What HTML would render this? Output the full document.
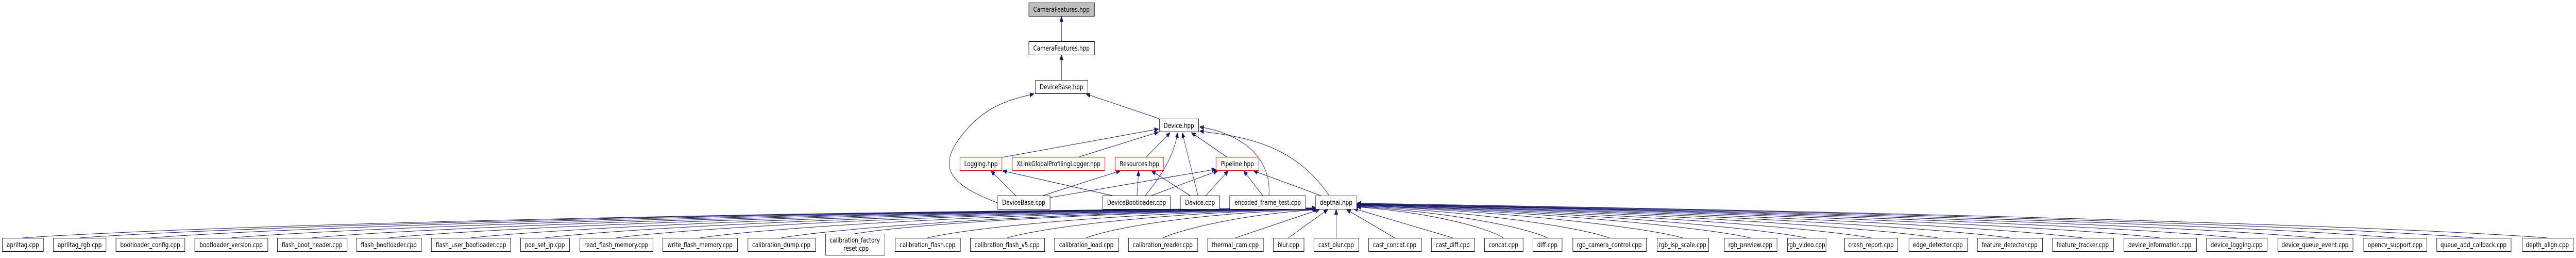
<!DOCTYPE html>
<html><head><meta charset="utf-8"><style>
html,body{margin:0;padding:0;background:#fff;width:100%;height:100%;overflow:hidden;}
svg{display:block;position:absolute;left:0;top:0;width:100vw;height:100vh;}
text{font-family:"DejaVu Sans","Liberation Sans",sans-serif;font-size:13px;fill:#000;}
.n{fill:#fff;stroke:#000;stroke-width:1;}
.r{fill:#fff;stroke:#ff0000;stroke-width:1;}
.e{fill:none;stroke:#191970;stroke-width:1;}
</style></head><body>
<svg viewBox="0 0 6208 500" preserveAspectRatio="none" xmlns="http://www.w3.org/2000/svg">
<defs><marker id="a" viewBox="0 0 10 10" refX="10" refY="5" markerWidth="10" markerHeight="10" markerUnits="userSpaceOnUse" orient="auto"><path d="M0,1 L10,5 L0,9 z" fill="#191970" stroke="#191970"/></marker></defs>
<g class="e" marker-end="url(#a)">
<path d="M2558,80 L2558,32"/>
<path d="M2558,155 L2558,106"/>
<path d="M2794,230 L2617,182"/>
<path d="M2403,393 C2300,360 2250,330 2320,260 C2370,210 2420,195 2492,182"/>
<path d="M2415,305 L2792,250"/>
<path d="M2597,305 L2792,256"/>
<path d="M2762,305 L2820,257"/>
<path d="M2760,379 C2800,340 2830,300 2838,257"/>
<path d="M2887,379 L2849,257"/>
<path d="M2958,305 L2871,257"/>
<path d="M3058,379 C3065,310 3000,260 2891,246"/>
<path d="M3203,379 C3120,280 3000,265 2891,254"/>
<path d="M2448,379 L2388,331"/>
<path d="M2513,379 L2700,331"/>
<path d="M2530,383 L2930,328"/>
<path d="M2680,379 L2416,331"/>
<path d="M2740,379 L2744,331"/>
<path d="M2775,379 L2935,331"/>
<path d="M2868,379 L2775,331"/>
<path d="M2906,379 L2960,331"/>
<path d="M3043,379 L2997,331"/>
<path d="M3183,379 L3021,331"/>
<path d="M55,461 C429,440 1613,412 3172,403"/>
<path d="M192,461 C550,440 1682,412 3172,403"/>
<path d="M362,461 C699,440 1767,412 3172,403"/>
<path d="M557,461 C871,440 1864,412 3172,403"/>
<path d="M752,461 C1042,440 1962,412 3172,403"/>
<path d="M937,461 C1205,440 2054,412 3172,403"/>
<path d="M1134,461 C1379,440 2153,412 3172,403"/>
<path d="M1313,461 C1536,440 2242,412 3172,404"/>
<path d="M1485,461 C1687,440 2328,412 3172,404"/>
<path d="M1687,461 C1865,440 2429,412 3172,404"/>
<path d="M1883,461 C2038,440 2527,412 3172,404"/>
<path d="M2060,453 C2193,435 2616,412 3174,405"/>
<path d="M2235,461 C2347,440 2703,412 3174,405"/>
<path d="M2427,461 C2516,440 2800,412 3175,405"/>
<path d="M2618,461 C2685,440 2896,412 3176,406"/>
<path d="M2802,461 C2847,445 2990,415 3178,406"/>
<path d="M2977,461 L3180,406"/>
<path d="M3105,461 L3200,406"/>
<path d="M3220,461 L3220,406"/>
<path d="M3361,461 L3245,406"/>
<path d="M3501,461 L3262,404"/>
<path d="M3623,461 C3581,440 3447,412 3270,401"/>
<path d="M3729,461 C3674,440 3500,412 3270,400"/>
<path d="M3878,461 C3805,440 3575,412 3270,399"/>
<path d="M4055,461 C3961,440 3663,412 3270,398"/>
<path d="M4218,461 C4104,440 3745,412 3270,398"/>
<path d="M4353,461 C4223,440 3812,412 3270,397"/>
<path d="M4509,461 C4360,440 3890,412 3270,397"/>
<path d="M4670,461 C4502,440 3971,412 3270,396"/>
<path d="M4843,461 C4654,440 4057,412 3270,396"/>
<path d="M5019,461 C4809,440 4145,412 3270,396"/>
<path d="M5205,461 C4973,440 4238,412 3270,395"/>
<path d="M5390,461 C5136,440 4330,412 3270,395"/>
<path d="M5579,461 C5302,440 4425,412 3270,395"/>
<path d="M5772,461 C5472,440 4521,412 3270,395"/>
<path d="M5961,461 C5638,440 4616,412 3270,394"/>
<path d="M6139,461 C5795,440 4705,412 3270,394"/>
</g>
<g text-anchor="middle">
<rect x="2479.5" y="5.5" width="158" height="26" fill="#bfbfbf" stroke="#000"/><text x="2558" y="23">CameraFeatures.hpp</text>
<rect class="n" x="2479.5" y="80.5" width="158" height="26"/><text x="2558" y="98">CameraFeatures.hpp</text>
<rect class="n" x="2495.5" y="155.5" width="126" height="26"/><text x="2558" y="173">DeviceBase.hpp</text>
<rect class="n" x="2794.5" y="230.5" width="94" height="25"/><text x="2841" y="248">Device.hpp</text>
<rect class="r" x="2313.5" y="304.5" width="101" height="26"/><text x="2364" y="322">Logging.hpp</text>
<rect class="r" x="2439.5" y="304.5" width="223" height="26"/><text x="2551" y="322">XLinkGlobalProfilingLogger.hpp</text>
<rect class="r" x="2687.5" y="304.5" width="117" height="26"/><text x="2746" y="322">Resources.hpp</text>
<rect class="r" x="2930.5" y="304.5" width="103" height="26"/><text x="2982" y="322">Pipeline.hpp</text>
<rect class="n" x="2403.5" y="379.5" width="127" height="26"/><text x="2467" y="397">DeviceBase.cpp</text>
<rect class="n" x="2657.5" y="379.5" width="163" height="26"/><text x="2739" y="397">DeviceBootloader.cpp</text>
<rect class="n" x="2844.5" y="379.5" width="95" height="26"/><text x="2892" y="397">Device.cpp</text>
<rect class="n" x="2963.5" y="379.5" width="183" height="26"/><text x="3055" y="397">encoded_frame_test.cpp</text>
<rect class="r" x="3170.5" y="379.5" width="99" height="26"/><text x="3220" y="397">depthai.hpp</text>

<rect class="n" x="5.5" y="461.5" width="99" height="26"/><text x="55" y="479">apriltag.cpp</text>
<rect class="n" x="128.5" y="461.5" width="127" height="26"/><text x="192" y="479">apriltag_rgb.cpp</text>
<rect class="n" x="279.5" y="461.5" width="166" height="26"/><text x="362" y="479">bootloader_config.cpp</text>
<rect class="n" x="469.5" y="461.5" width="176" height="26"/><text x="557" y="479">bootloader_version.cpp</text>
<rect class="n" x="668.5" y="461.5" width="168" height="26"/><text x="752" y="479">flash_boot_header.cpp</text>
<rect class="n" x="859.5" y="461.5" width="156" height="26"/><text x="937" y="479">flash_bootloader.cpp</text>
<rect class="n" x="1039.5" y="461.5" width="191" height="26"/><text x="1135" y="479">flash_user_bootloader.cpp</text>
<rect class="n" x="1254.5" y="461.5" width="118" height="26"/><text x="1313" y="479">poe_set_ip.cpp</text>
<rect class="n" x="1397.5" y="461.5" width="176" height="26"/><text x="1485" y="479">read_flash_memory.cpp</text>
<rect class="n" x="1597.5" y="461.5" width="180" height="26"/><text x="1687" y="479">write_flash_memory.cpp</text>
<rect class="n" x="1802.5" y="461.5" width="163" height="26"/><text x="1883" y="479">calibration_dump.cpp</text>
<rect class="n" x="1989.5" y="453.5" width="143" height="41"/><text x="2060" y="470">calibration_factory</text><text x="2060" y="486">_reset.cpp</text>
<rect class="n" x="2157.5" y="461.5" width="157" height="26"/><text x="2235" y="479">calibration_flash.cpp</text>
<rect class="n" x="2338.5" y="461.5" width="179" height="26"/><text x="2427" y="479">calibration_flash_v5.cpp</text>
<rect class="n" x="2541.5" y="461.5" width="154" height="26"/><text x="2618" y="479">calibration_load.cpp</text>
<rect class="n" x="2719.5" y="461.5" width="167" height="26"/><text x="2802" y="479">calibration_reader.cpp</text>
<rect class="n" x="2910.5" y="461.5" width="134" height="26"/><text x="2977" y="479">thermal_cam.cpp</text>
<rect class="n" x="3068.5" y="461.5" width="74" height="26"/><text x="3105" y="479">blur.cpp</text>
<rect class="n" x="3166.5" y="461.5" width="108" height="26"/><text x="3220" y="479">cast_blur.cpp</text>
<rect class="n" x="3298.5" y="461.5" width="127" height="26"/><text x="3361" y="479">cast_concat.cpp</text>
<rect class="n" x="3449.5" y="461.5" width="104" height="26"/><text x="3501" y="479">cast_diff.cpp</text>
<rect class="n" x="3577.5" y="461.5" width="93" height="26"/><text x="3623" y="479">concat.cpp</text>
<rect class="n" x="3694.5" y="461.5" width="70" height="26"/><text x="3729" y="479">diff.cpp</text>
<rect class="n" x="3790.5" y="461.5" width="177" height="26"/><text x="3878" y="479">rgb_camera_control.cpp</text>
<rect class="n" x="3993.5" y="461.5" width="124" height="26"/><text x="4055" y="479">rgb_isp_scale.cpp</text>
<rect class="n" x="4155.5" y="461.5" width="127" height="26"/><text x="4218" y="479">rgb_preview.cpp</text>
<rect class="n" x="4307.5" y="461.5" width="93" height="26"/><text x="4353" y="479">rgb_video.cpp</text>
<rect class="n" x="4445.5" y="461.5" width="128" height="26"/><text x="4509" y="479">crash_report.cpp</text>
<rect class="n" x="4600.5" y="461.5" width="141" height="26"/><text x="4670" y="479">edge_detector.cpp</text>
<rect class="n" x="4765.5" y="461.5" width="157" height="26"/><text x="4843" y="479">feature_detector.cpp</text>
<rect class="n" x="4946.5" y="461.5" width="147" height="26"/><text x="5019" y="479">feature_tracker.cpp</text>
<rect class="n" x="5118.5" y="461.5" width="175" height="26"/><text x="5205" y="479">device_information.cpp</text>
<rect class="n" x="5317.5" y="461.5" width="146" height="26"/><text x="5390" y="479">device_logging.cpp</text>
<rect class="n" x="5489.5" y="461.5" width="181" height="26"/><text x="5579" y="479">device_queue_event.cpp</text>
<rect class="n" x="5696.5" y="461.5" width="152" height="26"/><text x="5772" y="479">opencv_support.cpp</text>
<rect class="n" x="5872.5" y="461.5" width="179" height="26"/><text x="5961" y="479">queue_add_callback.cpp</text>
<rect class="n" x="6078.5" y="461.5" width="123" height="26"/><text x="6139" y="479">depth_align.cpp</text>
</g>
</svg>
</body></html>
